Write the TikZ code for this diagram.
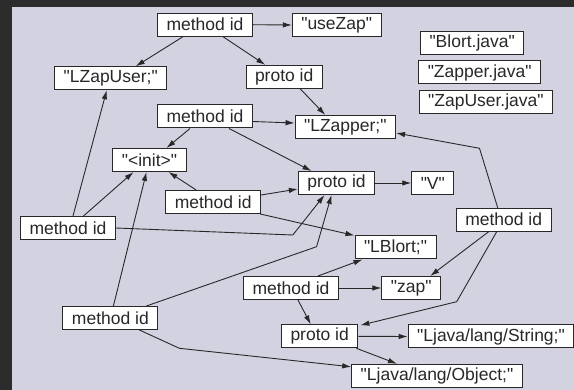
\documentclass[tikz,border=0pt]{standalone}
\usepackage{fontspec}
\newfontfamily\labelfont{Liberation Sans}
\usetikzlibrary{arrows.meta}
\definecolor{slidebg}{RGB}{44,44,44}
\definecolor{panel}{RGB}{210,210,224}
\definecolor{ink}{RGB}{40,40,40}
\tikzset{
  box/.style={draw=ink, line width=1pt, fill=white, inner xsep=9pt, inner ysep=0pt,
    minimum height=23pt, font=\labelfont\fontsize{17.5}{19}\selectfont, text=ink, anchor=center},
  link/.style={draw=ink, line width=0.9pt, -{Latex[length=9pt,width=5.5pt]}}
}
\begin{document}
\begin{tikzpicture}[x=1pt,y=-1pt]
  % slide background and diagram panel
  \fill[slidebg] (0,0) rectangle (574,390);
  \fill[panel] (12,7) rectangle (574,390);
  \useasboundingbox (0,0) rectangle (574,390);

  % nodes
  \node[box] (mtop)  at (205,24.7)   {method id};
  \node[box] (usezap) at (336.7,25)  {"useZap"};
  \node[box] (lzapuser) at (110.7,78.3) {"LZapUser;"};
  \node[box] (ptop)  at (284.2,76.8) {proto id};
  \node[box] (blort) at (472.2,43)   {"Blort.java"};
  \node[box] (zapperj) at (479.7,72.5) {"Zapper.java"};
  \node[box] (zapuserj) at (485.9,102.3) {"ZapUser.java"};
  \node[box] (mtwo)  at (205,116.5)  {method id};
  \node[box] (lzapper) at (345.3,127) {"LZapper;"};
  \node[box] (init)  at (149.5,160)  {"<init>"};
  \node[box] (pmid)  at (336.5,183)  {proto id};
  \node[box] (vee)   at (432.8,183)  {"V"};
  \node[box] (mmid)  at (213.2,202)  {method id};
  \node[box] (mleft) at (68,228)     {method id};
  \node[box] (mright) at (503.7,219.7) {method id};
  \node[box] (lblort) at (395.5,247.5) {"LBlort;"};
  \node[box] (mlow)  at (291,288)    {method id};
  \node[box] (zap)   at (411.2,288)  {"zap"};
  \node[box] (mbl)   at (110.4,318)  {method id};
  \node[box] (pbot)  at (319.7,336.3) {proto id};
  \node[box] (lstring) at (491,336.5) {"Ljava/lang/String;"};
  \node[box] (lobject) at (437,375.8) {"Ljava/lang/Object;"};

  % bend points of the routed connectors
  \coordinate (kleft)  at (292.8,235);
  \coordinate (kbl)    at (316.6,246.7);
  \coordinate (kobj)   at (179.4,348.3);
  \coordinate (kright) at (479.5,148.3);
  \coordinate (kpbot)  at (456.7,301.7);

  % connectors
  \draw[link] (mtop.east) -- (usezap.west);
  \draw[link] ([xshift=-22pt]mtop.south) -- ([xshift=25pt]lzapuser.north);
  \draw[link] ([xshift=18pt]mtop.south) -- ([xshift=-19pt]ptop.north);
  \draw[link] ([xshift=16pt]ptop.south) -- ([xshift=-20pt]lzapper.north);

  \draw[link] ([yshift=-5pt]mtwo.east) -- ([yshift=4pt]lzapper.west);
  \draw[link] ([xshift=-15pt]mtwo.south) -- ([xshift=17pt]init.north);
  \draw[link] ([xshift=24pt]mtwo.south) -- ([xshift=-25pt]pmid.north);
  \draw[link] (pmid.east) -- (vee.west);

  \draw[link] ([xshift=-17pt]mmid.north) -- ([xshift=19pt]init.south);
  \draw[link] ([yshift=7pt]mmid.east) -- ([yshift=-6pt]pmid.west);
  \draw[link] ([xshift=47pt]mmid.south) -- (lblort.north west);

  \draw[link] ([xshift=15.5pt]mleft.north) -- ([xshift=-16pt]init.south);
  \draw[link] ([xshift=5pt]mleft.north) -- ([xshift=-4pt]lzapuser.south);
  \draw[link] (mleft.east) -- (kleft) -- ([xshift=-12pt]pmid.south);

  \draw[link] ([xshift=3pt]mbl.north) -- ([xshift=-3pt]init.south);
  \draw[link] ([xshift=36pt]mbl.north) -- (kbl) -- ([xshift=-5pt]pmid.south);
  \draw[link] ([xshift=29pt]mbl.south) -- (kobj) -- ([yshift=9pt]lobject.west);

  \draw[link] ([xshift=27pt]mlow.north) -- ([xshift=-33pt]lblort.south);
  \draw[link] (mlow.east) -- (zap.west);
  \draw[link] ([xshift=7pt]mlow.south) -- ([xshift=-9pt]pbot.north);

  \draw[link] ([xshift=-6pt]mright.north) -- (kright) -- ([yshift=-6pt]lzapper.east);
  \draw[link] ([xshift=-15pt]mright.south) -- ([xshift=19pt]zap.north);
  \draw[link] ([xshift=-7pt]mright.south) -- (kpbot) -- ([xshift=2pt,yshift=-1pt]pbot.north east);

  \draw[link] (pbot.east) -- (lstring.west);
  \draw[link] ([xshift=-2pt]pbot.south east) -- ([xshift=-40pt]lobject.north);
\end{tikzpicture}
\end{document}
